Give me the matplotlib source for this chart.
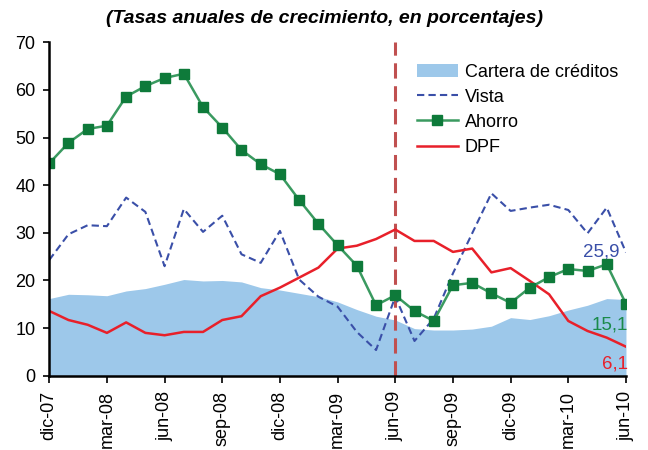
import numpy as np
import matplotlib.pyplot as plt

plt.rcParams['font.family'] = ['Liberation Sans', 'DejaVu Sans']

# Meses: dic-07 .. jun-10 (31 observaciones)
meses = ["dic-07", "ene-08", "feb-08", "mar-08", "abr-08", "may-08", "jun-08",
         "jul-08", "ago-08", "sep-08", "oct-08", "nov-08", "dic-08", "ene-09",
         "feb-09", "mar-09", "abr-09", "may-09", "jun-09", "jul-09", "ago-09",
         "sep-09", "oct-09", "nov-09", "dic-09", "ene-10", "feb-10", "mar-10",
         "abr-10", "may-10", "jun-10"]

cartera = [16.2, 17.1, 17.0, 16.8, 17.8, 18.3, 19.2, 20.2, 19.9, 20.0, 19.7,
           18.5, 18.0, 17.3, 16.6, 15.5, 13.9, 12.5, 11.7, 9.9, 9.6, 9.6,
           9.8, 10.4, 12.2, 11.8, 12.6, 13.8, 14.8, 16.2, 16.0]
vista = [24.3, 29.7, 31.6, 31.4, 37.4, 34.4, 23.0, 35.0, 30.2, 33.6, 25.5,
         23.7, 30.4, 20.2, 16.6, 14.5, 9.2, 5.4, 16.6, 7.3, 12.0, 21.5,
         29.9, 38.3, 34.6, 35.3, 35.9, 34.8, 29.9, 35.3, 25.9]
ahorro = [44.6, 48.9, 51.8, 52.5, 58.6, 60.8, 62.5, 63.4, 56.4, 52.1, 47.4,
          44.4, 42.3, 36.9, 31.9, 27.4, 23.1, 14.8, 16.9, 13.6, 11.5, 19.0,
          19.5, 17.3, 15.3, 18.5, 20.7, 22.4, 22.0, 23.4, 15.1]
dpf = [13.6, 11.7, 10.7, 9.0, 11.2, 9.0, 8.5, 9.2, 9.2, 11.7, 12.5, 16.7,
       18.5, 20.6, 22.7, 26.7, 27.3, 28.7, 30.7, 28.3, 28.3, 26.0, 26.7,
       21.7, 22.6, 19.9, 17.1, 11.5, 9.4, 8.0, 6.1]

x = np.arange(len(meses))

fig = plt.figure(figsize=(6.48, 4.5), dpi=100)
ax = fig.add_axes([0.076, 0.165, 0.89, 0.741])

ax.fill_between(x, 0, cartera, color='#9dc8ea', linewidth=0,
                label='Cartera de créditos', zorder=1)
ax.plot(x, vista, color='#3a4fa8', linestyle=(0, (3.5, 2)), linewidth=1.5,
        label='Vista', zorder=3)
ax.plot(x, ahorro, color='#3a9a60', linewidth=1.8, marker='s', markersize=7,
        markerfacecolor='#0e7a3a', markeredgecolor='#0e7a3a',
        label='Ahorro', zorder=4)
ax.plot(x, dpf, color='#e8202a', linewidth=1.8, label='DPF', zorder=3)

# linea vertical en jun-09
ax.axvline(meses.index("jun-09"), color='#c05050', linestyle=(0, (5, 2.5)),
           linewidth=2.2, zorder=2)

# etiquetas del ultimo dato
ax.text(29.68, 25.0, "25,9", color='#3a4fa8', fontsize=13.5,
        ha='right', va='baseline')
ax.text(30.08, 9.8, "15,1", color='#1a8a4a', fontsize=13.5,
        ha='right', va='baseline')
ax.text(30.08, 1.6, "6,1", color='#e8202a', fontsize=13.5,
        ha='right', va='baseline')

ax.set_xlim(0, 30)
ax.set_ylim(0, 70)
ax.set_yticks(range(0, 71, 10))
ax.set_xticks(x[::3])
ax.set_xticklabels(meses[::3], rotation=90, fontsize=13)
ax.tick_params(axis='y', labelsize=13, direction='out', length=4, width=1.2,
               pad=6)
ax.tick_params(axis='x', direction='out', length=5, width=1.2, pad=6)
for s in ['top', 'right']:
    ax.spines[s].set_visible(False)
for s in ['left', 'bottom']:
    ax.spines[s].set_linewidth(1.8)
    ax.spines[s].set_zorder(5)

ax.legend(loc='upper right', bbox_to_anchor=(1.014, 0.985), frameon=False,
          fontsize=13, handlelength=2.3, handletextpad=0.35,
          labelspacing=0.45)

fig.text(0.5, 0.958, "(Tasas anuales de crecimiento, en porcentajes)",
         ha='center', va='center', fontsize=14, fontweight='bold',
         style='italic')

fig.savefig("out.png", dpi=100)
